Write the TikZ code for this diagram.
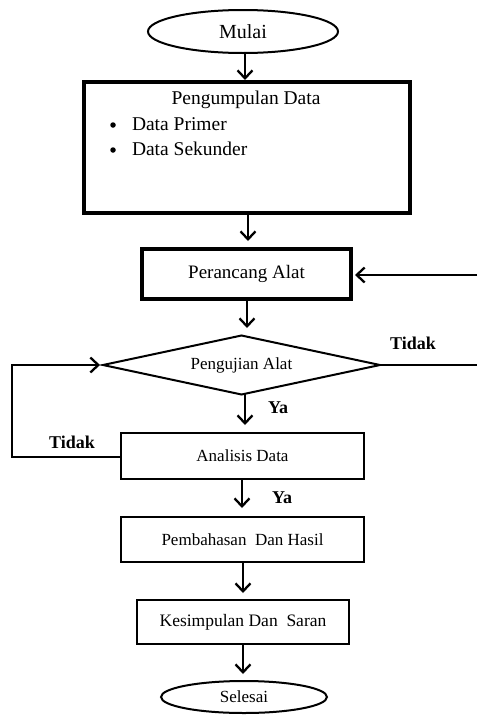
\documentclass[tikz,border=0pt]{standalone}
\usepackage{fontspec}
\setmainfont{Liberation Serif}
\usetikzlibrary{shapes.geometric,arrows.meta}
\begin{document}
\begin{tikzpicture}[x=1pt,y=-1pt,
  every node/.style={inner sep=0pt, outer sep=0pt},
  fz/.style={font=\fontsize{#1}{#1}\selectfont},
  terminal/.style={ellipse, draw, line width=2pt},
  bigbox/.style={rectangle, draw, line width=3.2pt},
  procbox/.style={rectangle, draw, line width=2.3pt},
  decision/.style={diamond, draw, line width=2pt, aspect=4.69},
  dot/.style={circle, fill, minimum size=5.5pt},
  flow/.style={line width=2.3pt, -{Straight Barb[length=8pt,width=15pt,line width=2.3pt]}},
  plainline/.style={line width=2.3pt},
  lbl/.style={font=\fontsize{18}{18}\selectfont\bfseries}
]
\useasboundingbox (0,0) rectangle (477,715);

% start / end terminals
\node[terminal, minimum width=190pt, minimum height=43pt, fz=20] (mulai) at (243,31.5) {Mulai};
\node[terminal, minimum width=166pt, minimum height=32pt, fz=17] (selesai) at (244,697) {Selesai};

% data collection block
\node[bigbox, minimum width=326pt, minimum height=131pt] (kumpul) at (247,147.5) {};
\node[fz=19.5] (kumpulT) at (246,100) {Pengumpulan Data};
\node[dot] (b1) at (113,125) {};
\node[fz=19.5, anchor=west] (primer) at (132,124) {Data Primer};
\node[dot] (b2) at (113,150) {};
\node[fz=19.5, anchor=west] (sekunder) at (132,149) {Data Sekunder};

% process steps
\node[bigbox, minimum width=209pt, minimum height=50pt, fz=19] (rancang) at (246.5,274) {Perancang Alat};
\node[decision, minimum width=277pt, minimum height=59pt, fz=17] (uji) at (241.5,365) {Pengujian Alat};
\node[procbox, minimum width=243pt, minimum height=46pt, fz=17] (analisis) at (242.5,456) {Analisis Data};
\node[procbox, minimum width=243pt, minimum height=45pt, fz=17] (bahas) at (242.5,539.5) {Pembahasan~ Dan Hasil};
\node[procbox, minimum width=212pt, minimum height=44pt, fz=17.5] (simpul) at (243,622) {Kesimpulan Dan~ Saran};

% loose ends on the right and left
\coordinate (inR) at (477,275);
\coordinate (outR) at (477,365);
\coordinate (loopL) at (12,457);
\coordinate (loopT) at (12,365);

% main flow
\draw[flow] (245,53) -- (245,80);
\draw[flow] (248,213) -- (248,241);
\draw[flow] (247,299) -- (247,328);
\draw[flow] (245,394) -- (245,425);
\draw[flow] (242,479) -- (242,508);
\draw[flow] (243,562) -- (243,593);
\draw[flow] (243,644) -- (243,674);

% feedback paths
\draw[flow] (inR) -- ([xshift=4pt]rancang.east |- inR);
\draw[plainline] (uji.east) -- (outR);
\draw[flow] (analisis.west |- loopL) -- (loopL) -- (loopT) -- ([xshift=-3pt]uji.west);

% branch labels
\node[lbl] (tidakR) at (413,343) {Tidak};
\node[lbl] (tidakL) at (72,442) {Tidak};
\node[lbl] (ya1) at (278,408) {Ya};
\node[lbl] (ya2) at (282,498) {Ya};
\end{tikzpicture}
\end{document}
